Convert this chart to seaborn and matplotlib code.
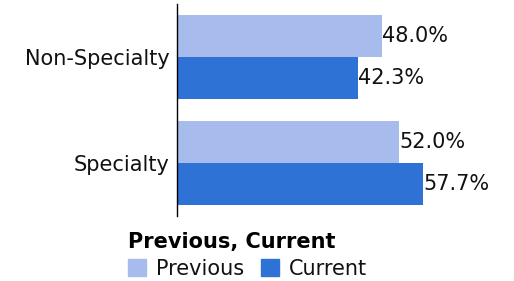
import pandas as pd
import seaborn as sns
import matplotlib.pyplot as plt

# data
categories = ['Non-Specialty', 'Specialty']
previous = [48.0, 52.0]
current = [42.3, 57.7]
series = ['Previous', 'Current']

df = pd.DataFrame({
    'category': categories * 2,
    'series': [series[0]] * 2 + [series[1]] * 2,
    'value': previous + current,
})

sns.set_style('white')
plt.rcParams['font.family'] = ['DejaVu Sans']

fig = plt.figure(figsize=(5.14, 2.81), dpi=100)
ax = fig.add_axes([0.3434, 0.2313, 0.6294, 0.7544])

sns.barplot(data=df, y='category', x='value', hue='series', orient='h',
            palette=['#a7bbec', '#2f72d6'], width=0.8, saturation=1,
            linewidth=0, ax=ax, legend=False)

for cont in ax.containers:
    ax.bar_label(cont, fmt='%.1f%%', padding=0, fontsize=15, color='#111111')

ax.set_xlim(0, 75.6)
ax.set_ylim(1.5, -0.5)
ax.set_xlabel('')
ax.set_ylabel('')
ax.set_xticks([])
ax.tick_params(axis='y', length=0, pad=5, labelsize=15, labelcolor='#111111')
for s in ['top', 'right', 'bottom']:
    ax.spines[s].set_visible(False)
ax.spines['left'].set_color('black')
ax.spines['left'].set_linewidth(1)

handles = [plt.Rectangle((0, 0), 1, 1, color=c) for c in ['#a7bbec', '#2f72d6']]
leg = fig.legend(handles, series, title='Previous, Current', ncol=2,
                 loc='center', bbox_to_anchor=(0.482, 0.091), frameon=False,
                 fontsize=15, title_fontproperties={'weight': 'bold', 'size': 15},
                 handlelength=0.85, handleheight=0.85, handletextpad=0.5,
                 columnspacing=0.8, borderpad=0, labelspacing=0.3,
                 labelcolor='#111111')
leg.get_title().set_color('black')
leg._legend_box.align = 'left'

fig.savefig('out.png', dpi=100)
